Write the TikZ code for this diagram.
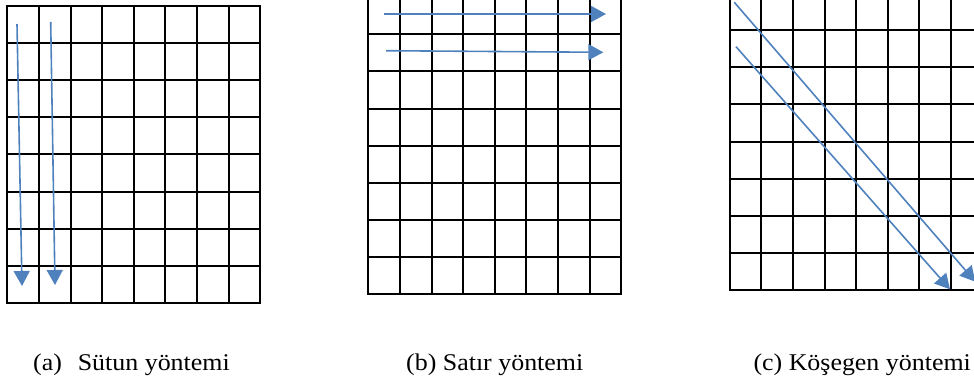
\documentclass[tikz,border=0pt]{standalone}
\usepackage{fontspec}
\setmainfont{Liberation Serif}
\usetikzlibrary{arrows.meta}
\definecolor{arrowblue}{RGB}{79,129,189}
\newcommand\gridpanel[2]{%
  \draw[gridline] (#1,#2) rectangle ({#1+252.8},{#2+297.3});
  \foreach \i in {1,...,7} {
    \draw[gridline] ({#1+\i*31.6},#2) -- ({#1+\i*31.6},{#2+297.3});
    \draw[gridline] (#1,{#2+\i*37.16}) -- ({#1+252.8},{#2+\i*37.16});
  }
}
\tikzset{
  gridline/.style={line width=2pt, black},
  flow/.style={line width=1.6pt, arrowblue, -{Triangle[length=15pt,width=16pt]}},
  caption/.style={inner sep=0pt, anchor=base west, font=\fontsize{24}{28}\selectfont}
}
\begin{document}
\begin{tikzpicture}[x=1pt,y=-1pt]
\useasboundingbox (0,0) rectangle (974,380);
% grids
\gridpanel{7.3}{5.7}
\gridpanel{368.3}{-2.9}
\gridpanel{729.7}{-7}
% arrows (a)
\coordinate (a1s) at (17,24);   \coordinate (a1e) at (22,286);
\coordinate (a2s) at (50.7,22); \coordinate (a2e) at (55,285);
\draw[flow] (a1s) -- (a1e);
\draw[flow] (a2s) -- (a2e);
% arrows (b)
\coordinate (b1s) at (384,14);   \coordinate (b1e) at (606,14);
\coordinate (b2s) at (386,50.7); \coordinate (b2e) at (603.3,52.3);
\draw[flow] (b1s) -- (b1e);
\draw[flow] (b2s) -- (b2e);
% arrows (c)
\coordinate (c1s) at (734.3,2.3); \coordinate (c1e) at (975.3,281.7);
\coordinate (c2s) at (736,46.7);  \coordinate (c2e) at (950,289.3);
\draw[flow] (c1s) -- (c1e);
\draw[flow] (c2s) -- (c2e);
% captions
\node[caption] (capa) at (33,370) {\scalebox{1.08}[1]{(a)\hspace{14.7pt}Sütun yöntemi}};
\node[caption] (capb) at (406,370) {\scalebox{1.08}[1]{(b) Satır yöntemi}};
\node[caption] (capc) at (753.3,370) {\scalebox{1.08}[1]{(c) Köşegen yöntemi}};
\end{tikzpicture}
\end{document}
